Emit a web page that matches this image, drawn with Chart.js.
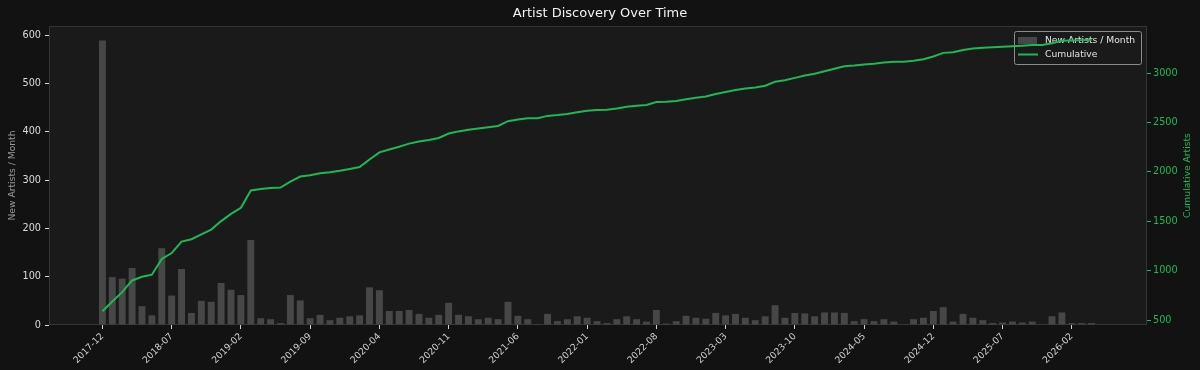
<!DOCTYPE html>
<html>
<head>
<meta charset="utf-8">
<title>Artist Discovery Over Time</title>
<script src="https://cdn.jsdelivr.net/npm/chart.js@4.4.1/dist/chart.umd.min.js"></script>
<style>
  html, body { margin: 0; padding: 0; background: #121212; }
  #wrap { width: 1200px; height: 370px; }
</style>
</head>
<body>
<div id="wrap"><canvas id="chart" width="1200" height="370"></canvas></div>
<script>
// one entry per month, 2017-12 .. 2026-04
const months = [
  '2017-12',
  '2018-01','2018-02','2018-03','2018-04','2018-05','2018-06','2018-07','2018-08','2018-09','2018-10','2018-11','2018-12',
  '2019-01','2019-02','2019-03','2019-04','2019-05','2019-06','2019-07','2019-08','2019-09','2019-10','2019-11','2019-12',
  '2020-01','2020-02','2020-03','2020-04','2020-05','2020-06','2020-07','2020-08','2020-09','2020-10','2020-11','2020-12',
  '2021-01','2021-02','2021-03','2021-04','2021-05','2021-06','2021-07','2021-08','2021-09','2021-10','2021-11','2021-12',
  '2022-01','2022-02','2022-03','2022-04','2022-05','2022-06','2022-07','2022-08','2022-09','2022-10','2022-11','2022-12',
  '2023-01','2023-02','2023-03','2023-04','2023-05','2023-06','2023-07','2023-08','2023-09','2023-10','2023-11','2023-12',
  '2024-01','2024-02','2024-03','2024-04','2024-05','2024-06','2024-07','2024-08','2024-09','2024-10','2024-11','2024-12',
  '2025-01','2025-02','2025-03','2025-04','2025-05','2025-06','2025-07','2025-08','2025-09','2025-10','2025-11','2025-12',
  '2026-01','2026-02','2026-03','2026-04'
];

const newArtists = [
  589,
  99, 96, 118, 39, 20, 159, 61, 116, 25, 50, 48, 87,
  73, 62, 176, 14, 12, 4, 62, 51, 14, 21, 10, 15,
  18, 20, 78, 72, 29, 29, 31, 23, 15, 21, 46, 21,
  18, 12, 15, 12, 48, 19, 12, 2, 23, 8, 12, 18,
  15, 8, 4, 12, 18, 12, 7, 31, 3, 8, 19, 15,
  13, 25, 20, 23, 15, 10, 18, 41, 15, 25, 24, 18,
  26, 26, 25, 8, 12, 8, 12, 7, 0, 12, 15, 29,
  37, 7, 23, 15, 10, 4, 5, 7, 5, 7, 0, 18,
  26, 4, 4, 4
];

const cumulative = [
  589,
  688, 783, 901, 939, 959, 1118, 1178, 1294, 1318, 1368, 1416, 1502,
  1575, 1636, 1812, 1826, 1837, 1841, 1902, 1953, 1967, 1987, 1997, 2011,
  2029, 2049, 2126, 2198, 2226, 2255, 2286, 2308, 2323, 2343, 2389, 2410,
  2427, 2439, 2453, 2465, 2513, 2531, 2543, 2544, 2567, 2575, 2586, 2604,
  2618, 2626, 2630, 2641, 2659, 2670, 2677, 2708, 2710, 2718, 2736, 2751,
  2764, 2788, 2808, 2830, 2845, 2855, 2872, 2913, 2927, 2952, 2976, 2993,
  3019, 3044, 3069, 3077, 3088, 3096, 3107, 3114, 3114, 3125, 3140, 3168,
  3205, 3212, 3234, 3249, 3258, 3262, 3267, 3273, 3278, 3284, 3284, 3302,
  3327, 3331, 3334, 3338
];

const tickLabels = ['2017-12','2018-07','2019-02','2019-09','2020-04','2020-11','2021-06','2022-01',
  '2022-08','2023-03','2023-10','2024-05','2024-12','2025-07','2026-02'];
const leftTicks = [0, 100, 200, 300, 400, 500, 600];
const rightTicks = [500, 1000, 1500, 2000, 2500, 3000];

const FONT = 'DejaVu Sans';
const GREEN = '#1db954';
const BAR = '#474747';

const barData = newArtists.map((v, i) => ({ x: i, y: v }));
const lineData = cumulative.map((v, i) => ({ x: i, y: v }));

// figure + axes background, the four spines, right axis label
const background = {
  id: 'background',
  beforeDraw(chart) {
    const { ctx, chartArea: a } = chart;
    ctx.save();
    ctx.fillStyle = '#121212';
    ctx.fillRect(0, 0, chart.width, chart.height);
    ctx.fillStyle = '#1a1a1a';
    ctx.fillRect(a.left, a.top, a.right - a.left, a.bottom - a.top);
    ctx.restore();
  },
  beforeDatasetsDraw(chart) {
    const { ctx, chartArea: a } = chart;
    ctx.save();
    ctx.strokeStyle = '#353535';
    ctx.lineWidth = 1;
    ctx.strokeRect(a.left + 0.5, a.top + 0.5, a.right - a.left - 1, a.bottom - a.top - 1);

    // matplotlib reads the twin-axis label bottom to top
    ctx.translate(1188, (a.top + a.bottom) / 2);
    ctx.rotate(-Math.PI / 2);
    ctx.fillStyle = GREEN;
    ctx.font = '9.2px "' + FONT + '"';
    ctx.textAlign = 'center';
    ctx.textBaseline = 'middle';
    ctx.fillText('Cumulative Artists', 0, 0);
    ctx.restore();
  }
};

// legend sits above the bars but under the line, like the twin axes it came from
const legendBox = {
  id: 'legendBox',
  afterDatasetDraw(chart, args) {
    if (args.index !== 0) return;
    const { ctx, chartArea: a } = chart;
    const w = 127, h = 33;
    const x = a.right - 6 - w, y = a.top + 5;
    ctx.save();
    ctx.beginPath();
    ctx.roundRect(x + 0.5, y + 0.5, w, h, 2);
    ctx.fillStyle = 'rgba(26,26,26,0.8)';
    ctx.fill();
    ctx.strokeStyle = '#8c8c8c';
    ctx.lineWidth = 1;
    ctx.stroke();

    ctx.fillStyle = BAR;
    ctx.fillRect(x + 4, y + 6, 19, 7);
    ctx.strokeStyle = GREEN;
    ctx.lineWidth = 2;
    ctx.beginPath();
    ctx.moveTo(x + 4, y + 23.5);
    ctx.lineTo(x + 24, y + 23.5);
    ctx.stroke();

    ctx.fillStyle = '#e2e2e2';
    ctx.font = '9.2px "' + FONT + '"';
    ctx.textBaseline = 'middle';
    ctx.fillText('New Artists / Month', x + 31, y + 9.5);
    ctx.fillText('Cumulative', x + 31, y + 23.5);
    ctx.restore();
  }
};

const tickGrid = color => ({
  display: true,
  drawOnChartArea: false,
  drawTicks: true,
  offset: false,
  tickLength: 4,
  tickColor: color,
  lineWidth: 1
});

new Chart(document.getElementById('chart'), {
  type: 'bar',
  data: {
    datasets: [
      {
        type: 'bar',
        label: 'New Artists / Month',
        data: barData,
        backgroundColor: BAR,
        borderWidth: 0,
        categoryPercentage: 1,
        barPercentage: 0.7,
        yAxisID: 'y',
        order: 2
      },
      {
        type: 'line',
        label: 'Cumulative',
        data: lineData,
        borderColor: GREEN,
        borderWidth: 2,
        pointRadius: 0,
        tension: 0,
        fill: false,
        yAxisID: 'y1',
        order: 1
      }
    ]
  },
  options: {
    responsive: false,
    animation: false,
    devicePixelRatio: 1,
    layout: { padding: 0 },
    plugins: {
      legend: { display: false },
      tooltip: { enabled: false },
      title: {
        display: true,
        text: 'Artist Discovery Over Time',
        color: '#f2f2f2',
        font: { family: FONT, size: 13, weight: 'normal' },
        padding: { top: 6, bottom: 4.4 }
      }
    },
    scales: {
      x: {
        type: 'linear',
        offset: false,
        min: -5.4,
        max: 105.6,
        afterBuildTicks: s => { s.ticks = tickLabels.map((_, k) => ({ value: k * 7 })); },
        afterFit: s => { s.height = 45; },
        ticks: {
          autoSkip: false,
          maxRotation: 45,
          minRotation: 45,
          padding: 2,
          color: '#d2d2d2',
          font: { family: FONT, size: 9.2 },
          callback: v => months[v]
        },
        grid: tickGrid('#d2d2d2'),
        border: { display: false }
      },
      y: {
        position: 'left',
        min: 0,
        max: 619,
        afterBuildTicks: s => { s.ticks = leftTicks.map(v => ({ value: v })); },
        afterFit: s => { s.width = 49; },
        ticks: {
          padding: 4,
          color: '#dcdcdc',
          font: { family: FONT, size: 9.7 },
          callback: v => String(v)
        },
        grid: tickGrid('#dcdcdc'),
        border: { display: false },
        title: {
          display: true,
          text: 'New Artists / Month',
          color: '#9a9a9a',
          font: { family: FONT, size: 9.2 },
          padding: { top: 7, bottom: 0 }
        }
      },
      y1: {
        position: 'right',
        min: 450,
        max: 3477,
        afterBuildTicks: s => { s.ticks = rightTicks.map(v => ({ value: v })); },
        afterFit: s => { s.width = 53; },
        ticks: {
          padding: 2,
          color: GREEN,
          font: { family: FONT, size: 9.7 },
          callback: v => String(v)
        },
        grid: tickGrid(GREEN),
        border: { display: false }
      }
    }
  },
  plugins: [background, legendBox]
});
</script>
</body>
</html>
